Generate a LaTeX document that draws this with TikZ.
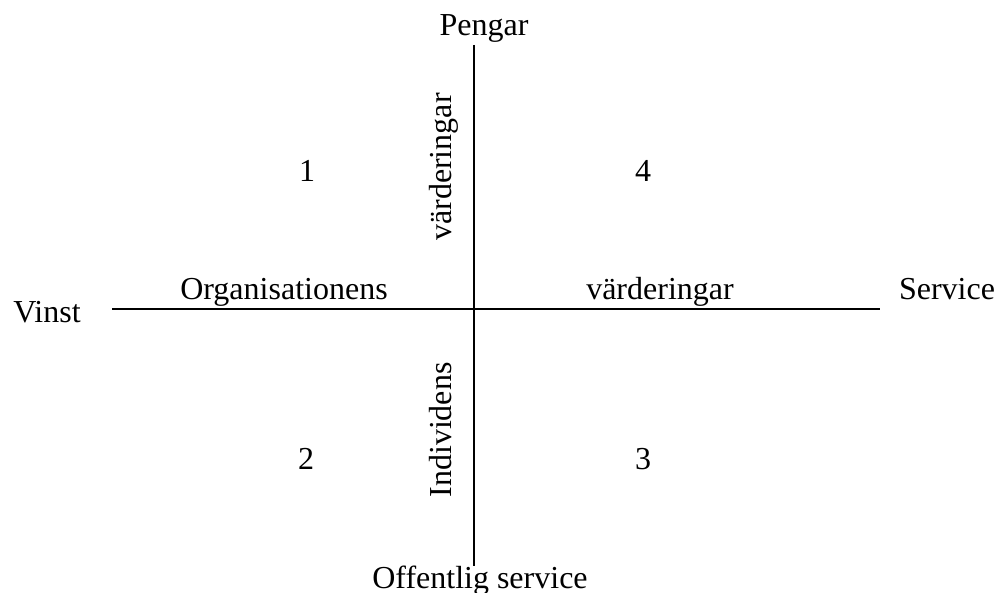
\documentclass[tikz,border=0pt]{standalone}
\usepackage{fontspec}
\setmainfont{Liberation Serif}
\begin{document}
\begin{tikzpicture}[x=1pt,y=-1pt,
  lbl/.style={inner sep=0pt,anchor=base,font=\fontsize{32}{38}\selectfont},
  vlbl/.style={lbl,rotate=90},
  axis/.style={line width=2pt,black}]
\useasboundingbox (0,0) rectangle (1000,593);
\coordinate (top) at (474,45);
\coordinate (bot) at (474,566);
\coordinate (lft) at (112,309);
\coordinate (rgt) at (880,309);
\draw[axis] (top) -- (bot);
\draw[axis] (lft) -- (rgt);
\node[lbl] (pengar) at (484,36) {Pengar};
\node[lbl] (offentlig) at (480,588) {Offentlig service};
\node[lbl] (vinst) at (47,322) {Vinst};
\node[lbl] (service) at (947,300) {Service};
\node[lbl] (org) at (284,300) {Organisationens};
\node[lbl] (vardh) at (660,300) {värderingar};
\node[vlbl] (vardv) at (451,167) {värderingar};
\node[vlbl] (indiv) at (451,430) {Individens};
\node[lbl] (q1) at (307,182) {1};
\node[lbl] (q4) at (643,182) {4};
\node[lbl] (q2) at (306,469) {2};
\node[lbl] (q3) at (643,469) {3};
\end{tikzpicture}
\end{document}
